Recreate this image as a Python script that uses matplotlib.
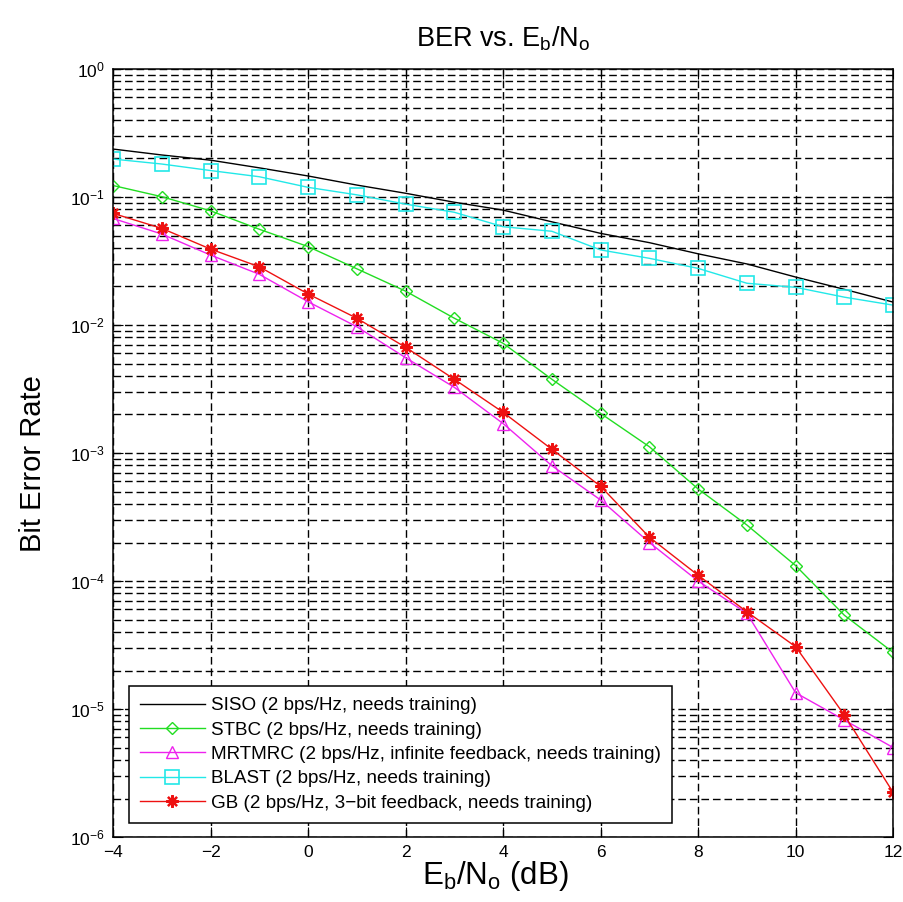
import numpy as np
import matplotlib
matplotlib.use("Agg")
import matplotlib.pyplot as plt
from matplotlib.ticker import LogLocator, FixedLocator, NullFormatter

plt.rcParams['font.family'] = ['Liberation Sans', 'DejaVu Sans']
plt.rcParams['mathtext.fontset'] = 'custom'
plt.rcParams['mathtext.rm'] = 'Liberation Sans'
plt.rcParams['mathtext.it'] = 'Liberation Sans'

ebno = [-4, -3, -2, -1, 0, 1, 2, 3, 4, 5, 6, 7, 8, 9, 10, 11, 12]

siso = [0.237, 0.213, 0.194, 0.169, 0.146, 0.124, 0.107, 0.091, 0.079,
        0.064, 0.052, 0.044, 0.036, 0.030, 0.0237, 0.019, 0.0151]
stbc = [0.123, 0.1006, 0.078, 0.056, 0.041, 0.0275, 0.0184, 0.0113, 0.0072,
        0.00377, 0.00204, 0.00112, 5.24e-4, 2.74e-4, 1.32e-4, 5.4e-5, 2.77e-5]
mrtmrc = [0.068, 0.0514, 0.0352, 0.0249, 0.0152, 0.0097, 0.00556, 0.00326,
          0.0017, 7.96e-4, 4.3e-4, 2.0e-4, 1.0e-4, 5.6e-5, 1.34e-5, 8.2e-6, 5.0e-6]
blast = [0.198, 0.181, 0.161, 0.144, 0.119, 0.104, 0.088, 0.076, 0.0586,
         0.054, 0.0386, 0.0332, 0.0277, 0.0212, 0.0197, 0.0165, 0.0143]
gb = [0.0745, 0.0569, 0.0392, 0.0285, 0.0175, 0.0113, 0.0067, 0.00377,
      0.00208, 0.00107, 5.5e-4, 2.2e-4, 1.11e-4, 5.75e-5, 3.07e-5, 8.97e-6, 2.23e-6]

labels = ['SISO (2 bps/Hz, needs training)',
          'STBC (2 bps/Hz, needs training)',
          'MRTMRC (2 bps/Hz, infinite feedback, needs training)',
          'BLAST (2 bps/Hz, needs training)',
          'GB (2 bps/Hz, 3\u2212bit feedback, needs training)']

xticks = [-4, -2, 0, 2, 4, 6, 8, 10, 12]

fig = plt.figure(figsize=(9.04, 9.02), dpi=100)
ax = fig.add_axes([0.125, 0.072, 0.863, 0.8515])

lw = 1.0
ax.semilogy(ebno, siso, '-', color='black', lw=lw, label=labels[0])
ax.semilogy(ebno, stbc, '-', color='#22dd22', lw=lw, marker='D', ms=6,
            mfc='none', mew=1.0, label=labels[1])
ax.semilogy(ebno, mrtmrc, '-', color='#ee22ee', lw=lw, marker='^', ms=8,
            mfc='none', mew=1.0, label=labels[2])
ax.semilogy(ebno, blast, '-', color='#22e8e8', lw=lw, marker='s', ms=9.5,
            mfc='none', mew=1.2, label=labels[3])
ax.semilogy(ebno, gb, '-', color='#ee1111', lw=lw, marker=(8, 2, 0), ms=9,
            mew=1.6, label=labels[4])

ax.set_xlim(-4, 12)
ax.set_ylim(1e-6, 1)
ax.xaxis.set_major_locator(FixedLocator(xticks))
ax.yaxis.set_major_locator(LogLocator(base=10, numticks=10))
ax.yaxis.set_minor_locator(LogLocator(base=10, subs=np.arange(2, 10), numticks=20))
ax.yaxis.set_minor_formatter(NullFormatter())

gls = (0, (5.5, 2.8))
ax.grid(True, which='major', axis='both', color='black', linestyle=gls, lw=1.0)
ax.grid(True, which='minor', axis='y', color='black', linestyle=gls, lw=1.0)

ax.tick_params(which='both', direction='in', top=True, right=True, labelsize=12.5)
ax.tick_params(which='major', length=7, pad=6)
ax.tick_params(which='minor', length=3.5)
for s in ax.spines.values():
    s.set_linewidth(1.1)

ax.set_title(r'BER vs. E$_\mathrm{b}$/N$_\mathrm{o}$', fontsize=19.5, pad=16)
ax.set_xlabel(r'E$_\mathrm{b}$/N$_\mathrm{o}$ (dB)', fontsize=22.5, labelpad=1)
ax.set_ylabel('Bit Error Rate', fontsize=21, labelpad=14)
ax.yaxis.set_label_coords(-0.084, 0.486)
ax.xaxis.set_label_coords(0.49, -0.028)
ax.xaxis.label.set_va('top')

leg = ax.legend(loc='lower left', bbox_to_anchor=(0.0205, 0.018), borderaxespad=0,
                fontsize=13.6, frameon=True, fancybox=False, edgecolor='black',
                framealpha=1, handlelength=3.4, handletextpad=0.35,
                borderpad=0.6, labelspacing=0.38)
leg.get_frame().set_linewidth(1.1)

fig.savefig('out.png', dpi=100, facecolor='white')
